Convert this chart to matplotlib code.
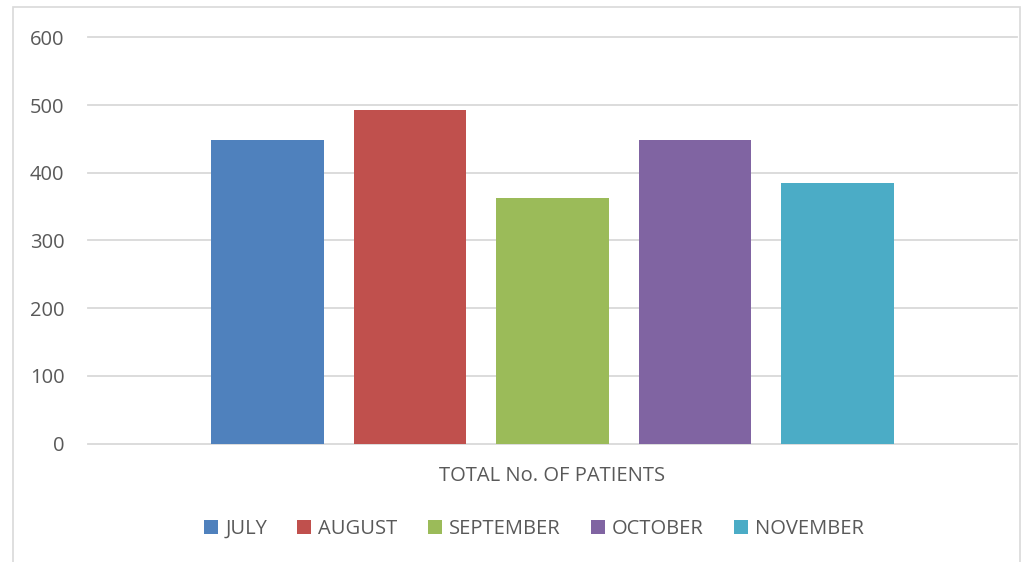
import matplotlib
matplotlib.use("Agg")
import matplotlib.pyplot as plt
from matplotlib.patches import Rectangle, Patch

# data
months = ["JULY", "AUGUST", "SEPTEMBER", "OCTOBER", "NOVEMBER"]
patients = [448, 493, 363, 448, 385]
colors = ["#4F81BD", "#C0504D", "#9BBB59", "#8064A2", "#4BACC6"]
category = "TOTAL No. OF PATIENTS"
yticks = [0, 100, 200, 300, 400, 500, 600]

plt.rcParams["font.family"] = ["Open Sans", "DejaVu Sans"]
text_color = "#595959"

fig = plt.figure(figsize=(10.25, 5.62), dpi=100)
ax = fig.add_axes([88 / 1025, 1 - 443.5 / 562, (1017 - 88) / 1025, (443.5 - 37.5) / 562])

# one category, five bars side by side
xs = list(range(len(months)))
ax.bar(xs, patients, width=0.79, color=colors, zorder=3)

ax.set_ylim(0, 600)
ax.set_xlim(-1.26, 5.26)
ax.set_yticks(yticks)
ax.set_xticks([2])
ax.set_xticklabels([category])
ax.yaxis.grid(True, color="#D9D9D9", linewidth=1.3, zorder=0)
for gl in ax.yaxis.get_gridlines():
    gl.set_clip_on(False)
ax.tick_params(axis="both", length=0, labelsize=14.5, colors=text_color)
ax.tick_params(axis="y", pad=17)
ax.tick_params(axis="x", pad=16)
for s in ax.spines.values():
    s.set_visible(False)

handles = [Patch(facecolor=c, label=m) for c, m in zip(colors, months)]
fig.legend(handles=handles, loc="center", bbox_to_anchor=(534 / 1025, 1 - 529 / 562),
           ncol=5, frameon=False, fontsize=14.5, labelcolor=text_color,
           handlelength=0.7, handleheight=0.7, handletextpad=0.35, columnspacing=1.5)

# light border around the chart area
fig.patches.append(Rectangle((13 / 1025, -0.01), 1007 / 1025, 1 - 7 / 562 + 0.01,
                             transform=fig.transFigure, fill=False,
                             edgecolor="#D9D9D9", linewidth=1.2))

fig.savefig("out.png", dpi=100)
